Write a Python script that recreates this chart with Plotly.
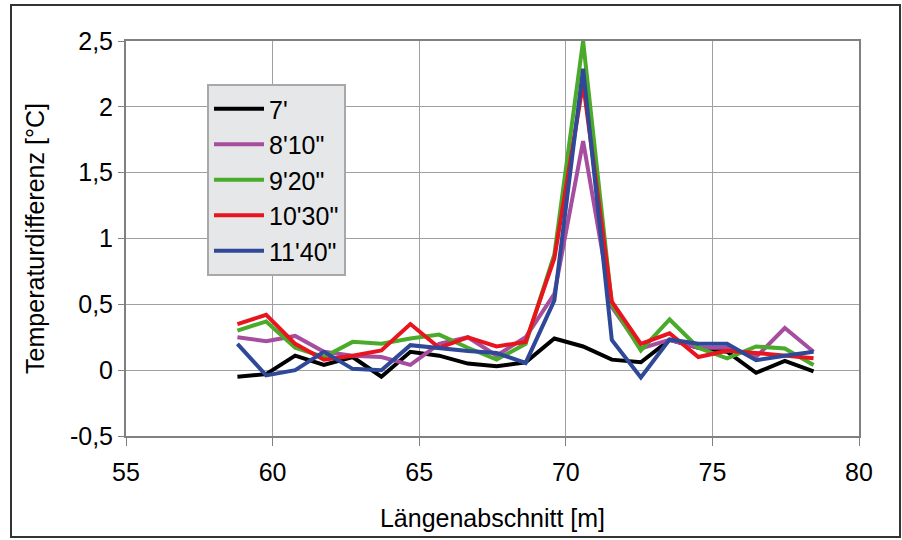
import plotly.graph_objects as go

x_m = [58.80, 59.78, 60.77, 61.75, 62.73, 63.71, 64.70, 65.68, 66.66, 67.64, 68.63,
       69.61, 70.59, 71.57, 72.56, 73.54, 74.52, 75.50, 76.49, 77.47, 78.45]

s_7 = [-0.05, -0.03, 0.11, 0.04, 0.10, -0.05, 0.14, 0.11, 0.05, 0.03, 0.06,
       0.24, 0.18, 0.08, 0.06, 0.23, 0.17, 0.14, -0.02, 0.07, -0.01]
s_810 = [0.25, 0.22, 0.26, 0.14, 0.11, 0.10, 0.04, 0.20, 0.25, 0.11, 0.25,
         0.58, 1.74, 0.48, 0.165, 0.23, 0.17, 0.17, 0.10, 0.32, 0.14]
s_920 = [0.30, 0.37, 0.17, 0.10, 0.215, 0.20, 0.24, 0.27, 0.17, 0.08, 0.20,
         0.88, 2.50, 0.50, 0.15, 0.385, 0.17, 0.09, 0.18, 0.165, 0.04]
s_1030 = [0.35, 0.42, 0.20, 0.08, 0.11, 0.15, 0.35, 0.17, 0.25, 0.18, 0.215,
          0.85, 2.18, 0.52, 0.20, 0.28, 0.10, 0.147, 0.13, 0.11, 0.09]
s_1140 = [0.20, -0.04, 0.00, 0.14, 0.01, 0.00, 0.19, 0.165, 0.145, 0.13, 0.055,
          0.53, 2.29, 0.23, -0.056, 0.233, 0.20, 0.20, 0.076, 0.11, 0.14]

series_names = ["7'", "8'10\"", "9'20\"", "10'30\"", "11'40\""]
series_vals = [s_7, s_810, s_920, s_1030, s_1140]
series_colors = ["#000000", "#a64d9f", "#4aab2a", "#e8141e", "#2f4898"]

y_tickvals = [-0.5, 0, 0.5, 1, 1.5, 2, 2.5]
y_ticktext = ["-0,5", "0", "0,5", "1", "1,5", "2", "2,5"]
x_tickvals = [55, 60, 65, 70, 75, 80]

FONT = "Liberation Sans, Arial, sans-serif"
FS = 25

fig = go.Figure()
for i, (name, vals, col) in enumerate(zip(series_names, series_vals, series_colors)):
    fig.add_trace(go.Scatter(x=x_m, y=vals, mode="lines", name=name,
                             legendgroup=f"g{i}",
                             line=dict(color=col, width=4)))

W, H = 902, 540
L, R, T, B = 126, 43, 41, 104
pw, ph = W - L - R, H - T - B

def px_to_paper_x(px):
    return (px - L) / pw

def px_to_paper_y(py):
    return (H - B - py) / ph

fig.update_layout(
    width=W, height=H,
    margin=dict(l=L, r=R, t=T, b=B),
    paper_bgcolor="white", plot_bgcolor="white",
    font=dict(family=FONT, size=FS, color="black"),
    showlegend=True,
    legend=dict(x=px_to_paper_x(207), y=px_to_paper_y(84), xanchor="left", yanchor="top",
                bgcolor="#e6e7e8", bordercolor="#a8a8a8", borderwidth=2,
                font=dict(size=25), traceorder="grouped", tracegroupgap=0,
                itemwidth=50),
    xaxis=dict(range=[55, 80], tickvals=x_tickvals, ticks="outside", ticklen=8,
               tickcolor="#808080", showgrid=True, gridcolor="#a0a0a0", gridwidth=1,
               showline=True, linecolor="#808080", linewidth=2, mirror=True,
               zeroline=False, tickfont=dict(size=FS), ticklabelstandoff=5,
               title=dict(text="Längenabschnitt [m]", standoff=24, font=dict(size=FS))),
    yaxis=dict(range=[-0.5, 2.5], tickvals=y_tickvals, ticktext=y_ticktext,
               ticks="outside", ticklen=6, tickcolor="#808080",
               showgrid=True, gridcolor="#a0a0a0", gridwidth=1,
               showline=True, linecolor="#808080", linewidth=2, mirror=True,
               zeroline=False, tickfont=dict(size=FS),
               title=dict(text="Temperaturdifferenz [°C]", standoff=18, font=dict(size=FS))),
    shapes=[dict(type="rect", xref="paper", yref="paper",
                 x0=px_to_paper_x(11), x1=px_to_paper_x(900),
                 y0=px_to_paper_y(537), y1=px_to_paper_y(5),
                 line=dict(color="#333333", width=2), layer="below")],
)

fig.write_html("out.html", config={"displayModeBar": False},
               post_script="document.body.style.margin='0px';")
